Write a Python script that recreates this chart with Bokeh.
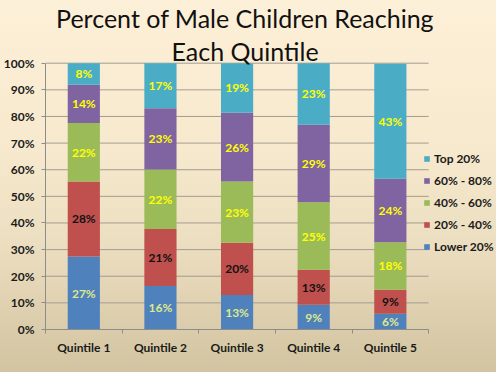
from bokeh.plotting import figure
from bokeh.models import (ColumnDataSource, FixedTicker, PrintfTickFormatter, Legend,
                          LegendItem, Label, GlobalInlineStyleSheet, Range1d)
from bokeh.core.properties import value
from bokeh.embed import file_html
from bokeh.resources import INLINE

categories = ["Quintile 1", "Quintile 2", "Quintile 3", "Quintile 4", "Quintile 5"]
series_names = ["Lower 20%", "20% - 40%", "40% - 60%", "60% - 80%", "Top 20%"]
lower_20 = [27.4, 16.3, 13.0, 9.3, 5.9]
p20_40 = [28.2, 21.4, 19.6, 13.1, 9.0]
p40_60 = [21.9, 22.4, 23.0, 25.4, 17.9]
p60_80 = [14.4, 23.0, 25.8, 29.1, 23.8]
top_20 = [8.1, 16.9, 18.6, 23.1, 43.2]
series_values = [lower_20, p20_40, p40_60, p60_80, top_20]
y_ticks = [0, 10, 20, 30, 40, 50, 60, 70, 80, 90, 100]
title_lines = ["Percent of Male Children Reaching", "Each Quintile"]

colors = ["#4F81BD", "#C0504D", "#9BBB59", "#8064A2", "#4BACC6"]
label_colors = ["#dfe98a", "#111111", "#ffff00", "#ffff00", "#ffff00"]
FONT = "Lato"

W, H = 496, 372
LEFT, BOTTOM = 44, 43
PX_PER_CAT = 76.8
PX_PER_PCT = 2.663
n = len(categories)

xs = [i + 0.5 for i in range(n)]
keys = ["s%d" % i for i in range(len(series_names))]
data = {"x": xs}
for k, vals in zip(keys, series_values):
    data[k] = vals
source = ColumnDataSource(data)

bg = GlobalInlineStyleSheet(css="html, body { background: linear-gradient(to bottom, #fdf0d8 0%, #f7e9cd 40%, #ecdec0 65%, #d2c4a0 100%) !important; }")

x_end = (W - LEFT) / PX_PER_CAT
y_end = (H - BOTTOM) / PX_PER_PCT

p = figure(width=W, height=H, x_range=Range1d(0, x_end), y_range=Range1d(0, y_end),
           output_backend="svg", toolbar_location=None,
           min_border_left=LEFT, min_border_right=0, min_border_bottom=BOTTOM, min_border_top=0,
           border_fill_color=None, background_fill_color=None, outline_line_color=None,
           stylesheets=[bg])

# gridlines (only across the category area)
p.segment(x0=[0] * len(y_ticks), x1=[n] * len(y_ticks), y0=y_ticks, y1=y_ticks,
          line_color="#a39d92", line_width=1)
p.xgrid.grid_line_color = None
p.ygrid.grid_line_color = None

renderers = p.vbar_stack(keys, x="x", width=0.42, color=colors, line_color=None, source=source)

# segment labels
lx, ly, lt, lc = [], [], [], []
for i in range(n):
    base = 0
    for j, vals in enumerate(series_values):
        v = vals[i]
        lx.append(xs[i])
        ly.append(base + v / 2)
        lt.append("%d%%" % int(v + 0.5))
        lc.append(label_colors[j])
        base += v
p.text(x=lx, y=ly, text=lt, text_color=lc, text_align="center", text_baseline="middle",
       text_font=value(FONT), text_font_style="bold", text_font_size="12px")

# axes
p.yaxis.ticker = FixedTicker(ticks=y_ticks)
p.yaxis.bounds = (0, 100)
p.yaxis.formatter = PrintfTickFormatter(format="%d%%")
p.yaxis.major_tick_in = 0
p.yaxis.major_tick_out = 4
p.yaxis.minor_tick_line_color = None
p.yaxis.axis_line_color = "#8c8c8c"
p.yaxis.major_tick_line_color = "#8c8c8c"
p.yaxis.major_label_text_font = FONT
p.yaxis.major_label_text_font_style = "bold"
p.yaxis.major_label_text_font_size = "12px"
p.yaxis.major_label_text_color = "#1a1a1a"
p.yaxis.major_label_standoff = 7

p.xaxis.ticker = FixedTicker(ticks=xs, minor_ticks=list(range(n + 1)))
p.xaxis.bounds = (0, n)
p.xaxis.major_label_overrides = {x: c for x, c in zip(xs, categories)}
p.xaxis.major_tick_in = 0
p.xaxis.major_tick_out = 0
p.xaxis.minor_tick_in = 0
p.xaxis.minor_tick_out = 4
p.xaxis.minor_tick_line_color = "#8c8c8c"
p.xaxis.axis_line_color = "#8c8c8c"
p.xaxis.major_label_text_font = FONT
p.xaxis.major_label_text_font_style = "bold"
p.xaxis.major_label_text_font_size = "12px"
p.xaxis.major_label_text_color = "#1a1a1a"
p.xaxis.major_label_standoff = 6

# legend (top series first)
items = [LegendItem(label=series_names[j], renderers=[renderers[j]]) for j in reversed(range(len(series_names)))]
legend = Legend(items=items, location=(378, 75), padding=0, margin=0, spacing=7,
                label_height=14, glyph_height=7, glyph_width=7, label_standoff=4,
                label_text_font=FONT, label_text_font_style="bold", label_text_font_size="12px",
                label_text_color="#1a1a1a", background_fill_alpha=0, border_line_color=None)
p.add_layout(legend, "center")

# two-line title
title_x = (244 - LEFT) / PX_PER_CAT
for line, base_y in zip(title_lines, [17.5, 50]):
    p.add_layout(Label(x=title_x, y=(H - BOTTOM - base_y) / PX_PER_PCT, text=line,
                       text_align="center", text_baseline="alphabetic",
                       text_font=FONT, text_font_size="25px", text_color="#111111"))

open("out.html", "w").write(file_html(p, INLINE))
